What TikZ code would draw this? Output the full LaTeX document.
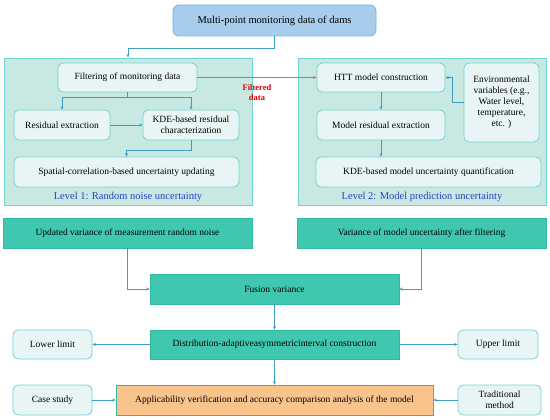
\documentclass[tikz,border=0pt]{standalone}
\usepackage{fontspec}
\setmainfont{Liberation Serif}
\usetikzlibrary{arrows.meta}

\definecolor{topfill}{HTML}{A7CCEC}
\definecolor{topline}{HTML}{74B6E2}
\definecolor{levfill}{HTML}{C7E9E2}
\definecolor{levline}{HTML}{6ED3D2}
\definecolor{boxfill}{HTML}{E9F5F4}
\definecolor{tealfill}{HTML}{3FC8AF}
\definecolor{tealline}{HTML}{30B99F}
\definecolor{orfill}{HTML}{F8C48C}
\definecolor{arrcol}{HTML}{3C9CC2}
\definecolor{redarr}{HTML}{EE5A78}
\definecolor{levtext}{HTML}{2B3FCB}

\begin{document}
\begin{tikzpicture}[x=1pt, y=-1pt, font=\fontsize{9.5}{11}\selectfont,
    >={Stealth[length=3.5pt, width=3pt]},
    topbox/.style={draw=topline, fill=topfill, rounded corners=6pt, line width=0.8pt, inner sep=0pt},
    levbox/.style={draw=levline, fill=levfill, line width=0.9pt, inner sep=0pt},
    inbox/.style={draw=levline, fill=boxfill, rounded corners=5pt, line width=0.8pt, inner sep=0pt, align=center},
    tealbox/.style={draw=tealline, fill=tealfill, line width=0.6pt, inner sep=0pt},
    arr/.style={->, draw=arrcol, line width=0.7pt}]
    \useasboundingbox (0,0) rectangle (550,420);
    \node[topbox, minimum width=203pt, minimum height=31pt, font=\fontsize{10.5}{12}\selectfont] (top) at (274.5,20.5) {Multi-point monitoring data of dams};
    \node[levbox, minimum width=248pt, minimum height=147pt] (lev1) at (128,131.5) {};
    \node[levbox, minimum width=248pt, minimum height=147pt] (lev2) at (422,131.5) {};
    \node[inbox, minimum width=139pt, minimum height=29pt] (filt) at (127.5,77.5) {Filtering of monitoring data};
    \node[inbox, minimum width=96pt, minimum height=30pt] (resid) at (62,125) {Residual extraction};
    \node[inbox, minimum width=96pt, minimum height=30pt] (kde1) at (191,125) {KDE-based residual\\characterization};
    \node[inbox, minimum width=225pt, minimum height=30pt] (spat) at (126.5,172) {Spatial-correlation-based uncertainty updating};
    \node[text=levtext, font=\fontsize{10.5}{12}\selectfont] (lab1) at (128,197) {Level 1: Random noise uncertainty};
    \node[inbox, minimum width=128pt, minimum height=29pt] (htt) at (381,77.5) {HTT model construction};
    \node[inbox, minimum width=75pt, minimum height=79pt] (env) at (501.5,102.5) {Environmental\\variables (e.g.,\\Water level,\\temperature,\\etc. )};
    \node[inbox, minimum width=128pt, minimum height=30pt] (mres) at (381,125) {Model residual extraction};
    \node[inbox, minimum width=225pt, minimum height=30pt] (kde2) at (428.5,172) {KDE-based model uncertainty quantification};
    \node[text=levtext, font=\fontsize{10.5}{12}\selectfont] (lab2) at (422,197) {Level 2: Model prediction uncertainty};
    \node[tealbox, minimum width=249pt, minimum height=30pt] (upd) at (127.5,233) {Updated variance of measurement random noise};
    \node[tealbox, minimum width=249pt, minimum height=30pt] (varm) at (421.5,233) {Variance of model uncertainty after filtering};
    \node[tealbox, minimum width=249pt, minimum height=30pt] (fus) at (274.5,289) {Fusion variance};
    \node[tealbox, minimum width=249pt, minimum height=29pt] (dist) at (274.5,344.5) {Distribution-adaptiveasymmetricinterval construction};
    \node[inbox, minimum width=79pt, minimum height=29pt] (lower) at (52.5,344.5) {Lower limit};
    \node[inbox, minimum width=80pt, minimum height=29pt] (upper) at (498,344.5) {Upper limit};
    \node[tealbox, fill=orfill, minimum width=317pt, minimum height=30pt] (appl) at (274.5,400) {Applicability verification and accuracy comparison analysis of the model};
    \node[inbox, minimum width=79pt, minimum height=30pt] (case) at (52.5,400) {Case study};
    \node[inbox, minimum width=83pt, minimum height=30pt] (trad) at (499.5,400) {Traditional\\method};
    \draw[arr] (top.south) -- ++(0,12) -| (lev1.north);
    \draw[arr] (filt.south) -- ++(0,5) -| (resid.north);
    \draw[arr] (filt.south) -- ++(0,5) -| (kde1.north);
    \draw[arr] (resid.east) -- (kde1.west);
    \draw[arr] (kde1.south) -- ++(0,10) -| (spat.north);
    \draw[->, draw=redarr, line width=0.7pt] (filt.east) -- (htt.west)
        node[midway, below=3pt, text=red!85!black, font=\fontsize{8.5}{10}\selectfont\bfseries, align=center] (filtlab) {Filtered\\data};
    \draw[arr] (htt.south) -- (mres.north);
    \draw[arr] (mres.south) -- (mres.south |- kde2.north);
    \draw[arr] (env.west) -- ++(-11,0) |- (htt.east);
    \draw[arr] (upd.south) |- (fus.west);
    \draw[arr] (varm.south) |- (fus.east);
    \draw[arr] (fus.south) -- (dist.north);
    \draw[arr] (dist.west) -- (lower.east);
    \draw[arr] (dist.east) -- (upper.west);
    \draw[arr] (dist.south) -- (appl.north);
    \draw[arr] (case.east) -- (appl.west);
    \draw[arr] (trad.west) -- (appl.east);
\end{tikzpicture}
\end{document}
